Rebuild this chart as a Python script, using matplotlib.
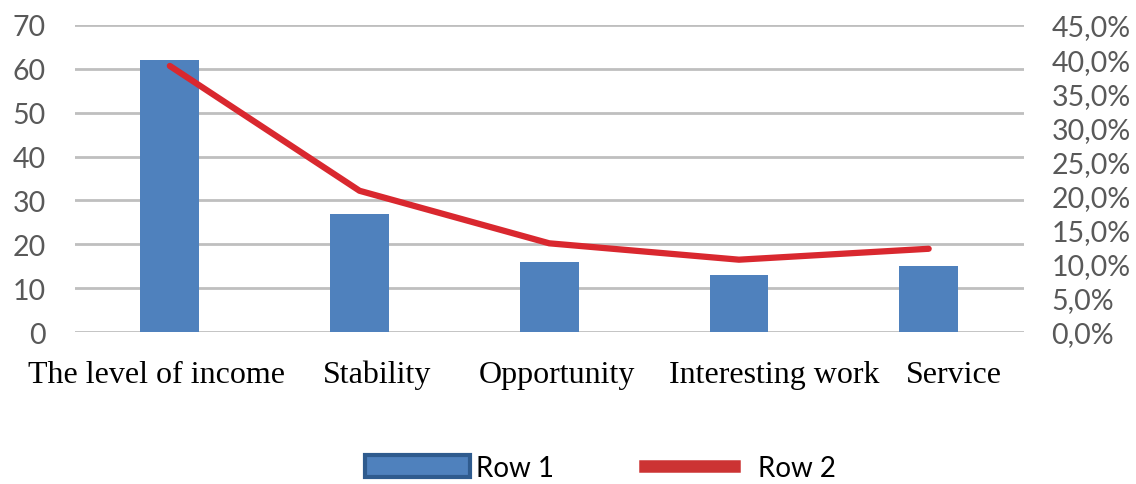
import numpy as np
import matplotlib
matplotlib.use('Agg')
import matplotlib.pyplot as plt
import matplotlib.transforms as mtransforms
from matplotlib.patches import Patch
from matplotlib.lines import Line2D
from matplotlib.ticker import FuncFormatter

# data
categories = ['The level of income', 'Stability', 'Opportunity', 'Interesting work', 'Service']
row1 = [62, 27, 16, 13, 15]
row2 = [39.0, 20.7, 13.0, 10.6, 12.2]

bar_color = '#4F81BD'
line_color = '#D9282F'
grid_color = '#BFBFBF'
tick_color = '#595959'

fig = plt.figure(figsize=(11.36, 4.85), dpi=100)
ax1 = fig.add_axes([0.066, 0.3134, 0.835, 0.633])
ax2 = ax1.twinx()

x = np.arange(len(categories))

# bars on the left axis
ax1.bar(x, row1, width=0.31, color=bar_color, zorder=3)
ax1.set_ylim(0, 70)
ax1.set_yticks(range(0, 71, 10))
ax1.set_xlim(-0.5, len(categories) - 0.5)
ax1.yaxis.grid(True, color=grid_color, linewidth=2, zorder=0)
ax1.set_axisbelow(True)

# line on the right axis
ax2.plot(x, row2, color=line_color, linewidth=4.5, solid_capstyle='round',
         solid_joinstyle='round', zorder=4)
ax2.set_ylim(0, 45)
ax2.set_yticks(np.arange(0, 45.1, 5))
ax2.yaxis.set_major_formatter(FuncFormatter(lambda v, p: ('%.1f%%' % v).replace('.', ',')))

for ax in (ax1, ax2):
    for s in ax.spines.values():
        s.set_visible(False)
    ax.tick_params(length=0)

ax1.tick_params(axis='y', labelsize=20.5, labelcolor=tick_color, pad=21)
ax2.tick_params(axis='y', labelsize=20.5, labelcolor=tick_color, pad=20)
for lbl in ax1.get_yticklabels() + ax2.get_yticklabels():
    lbl.set_fontfamily('Lato')

ax1.set_xticks(x)
ax1.set_xticklabels(categories, fontsize=23, fontfamily='Liberation Serif', color='black')
ax1.tick_params(axis='x', pad=20)
# nudge the category names sideways (pixels)
shifts = [-13, 18, 8, 35, 25]
for lbl, dx in zip(ax1.get_xticklabels(), shifts):
    lbl.set_transform(lbl.get_transform() + mtransforms.ScaledTranslation(dx / 100, 0, fig.dpi_scale_trans))

# legend below the plot, one entry each
leg1 = fig.legend([Patch(facecolor=bar_color, edgecolor='#2F5B8E', linewidth=3)], ['Row 1'],
                  loc='center left', bbox_to_anchor=(0.321, 0.034), frameon=False,
                  handlelength=3.8, handleheight=0.85, handletextpad=0.2,
                  borderpad=0, borderaxespad=0, prop={'family': 'Lato', 'size': 20})
leg2 = fig.legend([Line2D([0], [0], color='#CC3333', linewidth=9)], ['Row 2'],
                  loc='center left', bbox_to_anchor=(0.568, 0.034), frameon=False,
                  handlelength=3.2, handletextpad=0.85,
                  borderpad=0, borderaxespad=0, prop={'family': 'Lato', 'size': 20})

fig.savefig('out.png', dpi=100)
